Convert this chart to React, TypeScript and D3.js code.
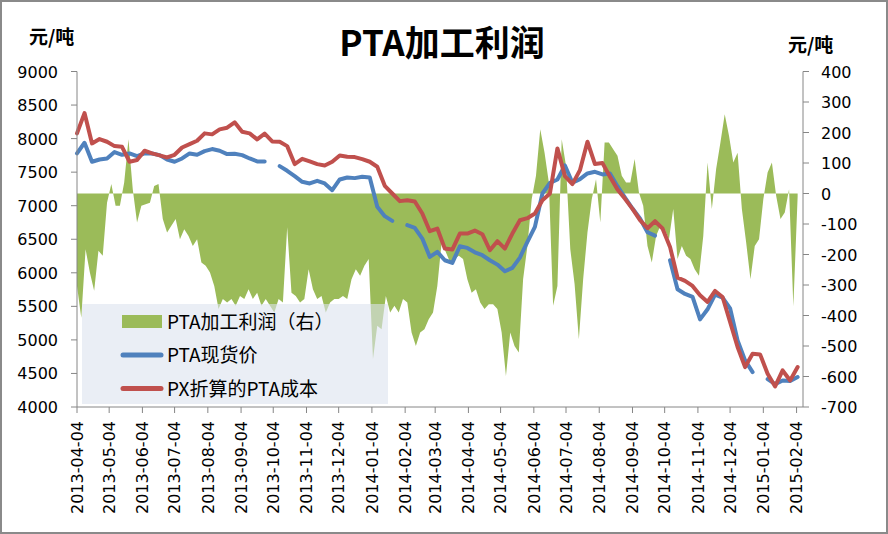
import React from 'react';
import * as d3 from 'd3';

const startDate = '2013-04-04';
const endDate = '2015-02-10';
const lineStepDays = 7;
const profitStepDays = 4;

// PTA现货价 (weekly samples, null = no quote)
const ptaSpot: (number | null)[] = [
  7780, 7938, 7655, 7689, 7704, 7799, 7759, 7779, 7739, 7779,
  7779, 7754, 7689, 7655, 7704, 7779, 7759, 7814, 7844, 7819,
  7769, 7774, 7754, 7704, 7660, 7660, null, 7590, 7520, 7441,
  7356, 7331, 7371, 7331, 7232, 7391, 7421, 7411, 7431, 7421,
  6983, 6844, 6774, null, 6710, 6670, 6510, 6237, 6311, 6187,
  6147, 6396, 6371, 6306, 6262, 6187, 6122, 6023, 6073, 6227,
  6461, 6685, 7182, 7341, 7391, 7600, 7341, 7396, 7481, 7505,
  7466, 7481, 7291, 7122, 6958, 6809, 6605, 6555, null, 6187,
  5754, 5685, 5640, 5306, 5456, 5675, 5630, 5471, 4993, 4694,
  4520, null, 4416, 4341, 4396, 4386, 4446,
];

// PX折算的PTA成本 (weekly samples)
const pxCost: number[] = [
  8078, 8380, 7928, 7993, 7953, 7888, 7878, 7655, 7680, 7819,
  7779, 7749, 7719, 7759, 7868, 7918, 7968, 8078, 8063, 8137,
  8162, 8242, 8102, 8078, 7988, 8073, 7958, 7953, 7888, 7620,
  7699, 7659, 7620, 7600, 7655, 7749, 7729, 7724, 7694, 7655,
  7580, 7296, 7182, 7068, 7082, 7063, 6884, 6620, 6660, 6361,
  6346, 6585, 6585, 6630, 6575, 6336, 6471, 6361, 6585, 6784,
  6814, 6884, 7082, 7182, 7854, 7441, 7321, 7530, 7953, 7620,
  7635, 7431, 7242, 7102, 6953, 6784, 6665, 6769, 6660, 6386,
  5928, 5879, 5804, 5665, 5565, 5729, 5640, 5267, 4894, 4595,
  4794, 4784, 4495, 4306, 4545, 4396, 4595,
];

// PTA加工利润（右） (4-day samples)
const profit: number[] = [
  -303, -407, -183, -259, -319, -188, -204, -30, 31, -40,
  -40, 36, 178, 14, -95, -40, -35, -30, 25, 31,
  -84, -128, -106, -84, -150, -117, -139, -172, -150, -226,
  -237, -259, -303, -379, -346, -357, -346, -368, -336, -346,
  -314, -346, -325, -368, -346, -368, -390, -346, -357, -111,
  -325, -336, -357, -346, -248, -314, -346, -336, -390, -357,
  -346, -346, -336, -346, -281, -248, -270, -237, -215, -543,
  -434, -445, -336, -390, -368, -390, -346, -357, -456, -500,
  -456, -445, -412, -390, -303, -161, -193, -226, -215, -204,
  -215, -281, -325, -314, -357, -379, -363, -363, -379, -456,
  -598, -456, -500, -521, -281, -172, -19, 58, 211, 134,
  36, -368, -303, 178, 91, -183, -297, -478, -281, -128,
  -19, 47, -95, 167, 167, 145, 124, 58, 36, 36,
  113, 3, -40, -172, -226, -139, -106, -117, -150, -51,
  -215, -172, -204, -215, -248, -270, -139, 102, -51, 80,
  167, 260, 189, 102, 134, -51, -161, -281, -172, -150,
  -19, 69, 102, -8, -84, -62, 14, -370, -10,
];

const monthTicks = [
  '2013-04-04', '2013-05-04', '2013-06-04', '2013-07-04', '2013-08-04', '2013-09-04',
  '2013-10-04', '2013-11-04', '2013-12-04', '2014-01-04', '2014-02-04', '2014-03-04',
  '2014-04-04', '2014-05-04', '2014-06-04', '2014-07-04', '2014-08-04', '2014-09-04',
  '2014-10-04', '2014-11-04', '2014-12-04', '2015-01-04', '2015-02-04',
];
const leftTicks = [4000, 4500, 5000, 5500, 6000, 6500, 7000, 7500, 8000, 8500, 9000];
const rightTicks = [-700, -600, -500, -400, -300, -200, -100, 0, 100, 200, 300, 400];
const seriesNames = ['PTA加工利润（右）', 'PTA现货价', 'PX折算的PTA成本'];
const titleText = 'PTA加工利润';
const unitText = '元/吨';

const GREEN = '#9BBB59';
const BLUE = '#4F81BD';
const RED = '#C0504D';
const AXIS = '#868686';
const NUM_FONT = '"DejaVu Sans", Verdana, sans-serif';
const CJK_FONT = '"Noto Sans CJK SC", "Noto Sans", sans-serif';

export default function App() {
  const W = 888;
  const H = 534;
  const parse = d3.utcParse('%Y-%m-%d');
  const t0 = parse(startDate) as Date;
  const t1 = parse(endDate) as Date;
  const left = 77, right = 803, top = 71.5, bottom = 407;

  const x = d3.scaleUtc().domain([t0, t1]).range([left, right]);
  const yL = d3.scaleLinear().domain([4000, 9000]).range([bottom, top]);
  const yR = d3.scaleLinear().domain([-700, 400]).range([bottom, top]);

  const lineDates = ptaSpot.map((_, i) => d3.utcDay.offset(t0, i * lineStepDays));
  const profitDates = profit.map((_, i) => d3.utcDay.offset(t0, i * profitStepDays));

  const areaGen = d3
    .area<number>()
    .x((_, i) => x(profitDates[i]))
    .y0(yR(0))
    .y1((d) => yR(d));

  const lineGen = d3
    .line<number | null>()
    .defined((d) => d != null)
    .x((_, i) => x(lineDates[i]))
    .y((d) => yL(d as number));

  const legendX = 82, legendY = 304, legendW = 306, legendH = 100;
  const legendRows = [321.5, 355, 388.5];

  return (
    <div style={{ position: 'fixed', left: 0, top: 0 }}>
      <svg width={W} height={H} style={{ display: 'block', background: '#fff' }}>
        <rect x={1} y={1} width={W - 2} height={H - 2} fill="#fff" stroke="#8a8a8a" strokeWidth={2} />

        {/* title and units */}
        <text x={442} y={56} textAnchor="middle" fontFamily={CJK_FONT} fontWeight="bold" fontSize={35} fill="#000">
          {titleText}
        </text>
        <text x={29} y={44} fontFamily={CJK_FONT} fontWeight="bold" fontSize={19} fill="#000">
          {unitText}
        </text>
        <text x={788} y={52} fontFamily={CJK_FONT} fontWeight="bold" fontSize={19} fill="#000">
          {unitText}
        </text>

        {/* profit area */}
        <path d={areaGen(profit) || ''} fill={GREEN} />

        {/* lines */}
        <path d={lineGen(ptaSpot) || ''} fill="none" stroke={BLUE} strokeWidth={4} strokeLinejoin="round" strokeLinecap="round" />
        <path d={lineGen(pxCost) || ''} fill="none" stroke={RED} strokeWidth={4} strokeLinejoin="round" strokeLinecap="round" />

        {/* left axis */}
        <line x1={left} x2={left} y1={top} y2={bottom} stroke={AXIS} strokeWidth={1} />
        {leftTicks.map((t) => (
          <g key={'l' + t}>
            <line x1={left - 6} x2={left} y1={yL(t)} y2={yL(t)} stroke={AXIS} />
            <text x={58} y={yL(t) + 6} textAnchor="end" fontFamily={NUM_FONT} fontSize={16} fill="#000">
              {t}
            </text>
          </g>
        ))}

        {/* right axis */}
        <line x1={right} x2={right} y1={top} y2={bottom} stroke={AXIS} strokeWidth={1} />
        {rightTicks.map((t) => (
          <g key={'r' + t}>
            <line x1={right} x2={right + 6} y1={yR(t)} y2={yR(t)} stroke={AXIS} />
            <text x={821} y={yR(t) + 6} textAnchor="start" fontFamily={NUM_FONT} fontSize={16} fill="#000">
              {t}
            </text>
          </g>
        ))}

        {/* bottom axis */}
        <line x1={left} x2={right} y1={bottom} y2={bottom} stroke={AXIS} strokeWidth={1} />
        {monthTicks.map((s) => {
          const tx = x(parse(s) as Date);
          return (
            <g key={s}>
              <line x1={tx} x2={tx} y1={bottom} y2={bottom + 6} stroke={AXIS} />
              <text
                transform={`translate(${tx},421) rotate(-90)`}
                dy="0.36em"
                textAnchor="end"
                fontFamily={NUM_FONT}
                fontSize={16}
                fill="#000"
              >
                {s}
              </text>
            </g>
          );
        })}

        {/* legend */}
        <rect x={legendX} y={legendY} width={legendW} height={legendH} fill="#dce3ef" fillOpacity={0.6} />
        <rect x={122} y={legendRows[0] - 6.5} width={40} height={13} fill={GREEN} />
        <line x1={123} x2={161} y1={legendRows[1]} y2={legendRows[1]} stroke={BLUE} strokeWidth={5} strokeLinecap="round" />
        <line x1={123} x2={161} y1={legendRows[2]} y2={legendRows[2]} stroke={RED} strokeWidth={5} strokeLinecap="round" />
        {seriesNames.map((n, i) => (
          <text key={n} x={167} y={legendRows[i] + 7} fontFamily={CJK_FONT} fontSize={19} fill="#000">
            {n}
          </text>
        ))}
      </svg>
    </div>
  );
}
